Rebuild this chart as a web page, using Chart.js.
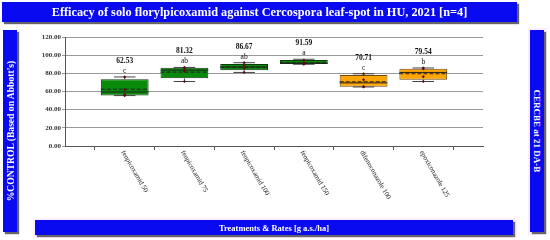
<!DOCTYPE html>
<html>
<head>
<meta charset="utf-8">
<script src="https://cdn.jsdelivr.net/npm/chart.js@4/dist/chart.umd.min.js"></script>
<style>
  body { margin: 0; background: #fff; }
  #wrap { position: relative; width: 550px; height: 240px; overflow: hidden; font-family: "Liberation Serif", serif; }
  canvas { position: absolute; left: 0; top: 0; }
  .band { position: absolute; background: #0a0af0; color: #fff; font-weight: bold; box-shadow: 2px 2px 1px #666; display: flex; align-items: center; justify-content: center; white-space: nowrap; }
  .pink { position: absolute; background: #fdeefd; }
  .vert { position: absolute; left: 50%; top: 50%; white-space: nowrap; }
</style>
</head>
<body>
<div id="wrap">
  <canvas id="chart" width="550" height="240"></canvas>
  <div class="band" style="left:2px;top:2px;width:515px;height:20px;font-size:12.3px;">Efficacy of solo florylpicoxamid against Cercospora leaf-spot in HU, 2021 [n=4]</div>
  <div class="band" style="left:3px;top:30px;width:14px;height:202px;font-size:9.6px;">
    <span class="vert" style="transform:translate(-50%,-50%) rotate(-90deg);">%CONTROL (Based on Abbott's)</span>
  </div>
  <div class="pink" style="left:528px;top:28px;width:19px;height:207px;"></div>
  <div class="band" style="left:530px;top:30px;width:14px;height:202px;font-size:9px;">
    <span class="vert" style="transform:translate(-50%,-50%) rotate(90deg);">CERCBE at 21 DA-B</span>
  </div>
  <div class="pink" style="left:33px;top:218px;width:484px;height:20px;"></div>
  <div class="band" style="left:35px;top:220px;width:478px;height:15px;font-size:8.5px;">Treatments &amp; Rates [g a.s./ha]</div>
</div>

<script>
// Behandlungen und Werte
const treatments = ["fenpicoxamid 50", "fenpicoxamid 75", "fenpicoxamid 100", "fenpicoxamid 150", "difenoconazole 100", "epoxiconazole 125"];
const means = [62.53, 81.32, 86.67, 91.59, 70.71, 79.54];
const letters = ["c", "ab", "ab", "a", "c", "b"];
const q1 = [55.5, 74.5, 83.5, 90.3, 65.3, 73.0];
const medians = [59.5, 83.5, 87.0, 91.2, 69.5, 81.0];
const q3 = [73.5, 86.2, 90.3, 94.8, 78.2, 85.1];
const lows = [55.5, 71.0, 81.0, 90.0, 65.0, 71.0];
const highs = [76.0, 86.5, 91.7, 95.5, 79.5, 85.9];
// Einzelwerte je Wiederholung (4 Wiederholungen)
const rep1 = [55.5, 71.0, 81.0, 90.0, 65.0, 71.0];
const rep2 = [56.5, 82.3, 85.5, 90.4, 65.5, 76.3];
const rep3 = [62.1, 85.5, 88.5, 91.5, 72.8, 85.0];
const rep4 = [76.0, 86.5, 91.7, 94.5, 79.5, 85.9];
const yTicks = [0, 20, 40, 60, 80, 100, 120];
const boxColors = ["#0a8a0a", "#0a8a0a", "#0a8a0a", "#0a8a0a", "#ffa500", "#ffa500"];
const edgeColors = ["#0b3d0b", "#0b3d0b", "#0b3d0b", "#0b3d0b", "#6b4a10", "#6b4a10"];

// leere Randkategorien, damit links und rechts ein voller Abstand bleibt
const labels = ["", ...treatments, ""];
const pad = (arr) => [null, ...arr, null];
const boxData = pad(treatments.map((t, i) => [q1[i], q3[i]]));

const repSet = (arr) => ({
  type: "line",
  data: pad(arr),
  showLine: false,
  pointStyle: "rectRot",
  pointRadius: 1.6,
  pointBackgroundColor: "#5a1010",
  pointBorderWidth: 0,
  order: 1
});

// Whisker, Median, Mittelwert und Beschriftungen
const boxExtras = {
  id: "boxExtras",
  afterDatasetDraw(chart, args) {
    if (args.index !== 0) return;
    const ctx = chart.ctx;
    const x = chart.scales.x, y = chart.scales.y;
    const bars = chart.getDatasetMeta(0).data;
    ctx.save();
    treatments.forEach((t, i) => {
      const cx = x.getPixelForValue(i + 1);
      const half = bars[i + 1].width / 2;
      const cap = half * 0.45;
      ctx.strokeStyle = "#444";
      ctx.lineWidth = 1;
      ctx.setLineDash([]);
      ctx.beginPath();
      ctx.moveTo(cx, y.getPixelForValue(q3[i]));
      ctx.lineTo(cx, y.getPixelForValue(highs[i]));
      ctx.moveTo(cx - cap, y.getPixelForValue(highs[i]));
      ctx.lineTo(cx + cap, y.getPixelForValue(highs[i]));
      ctx.moveTo(cx, y.getPixelForValue(q1[i]));
      ctx.lineTo(cx, y.getPixelForValue(lows[i]));
      ctx.moveTo(cx - cap, y.getPixelForValue(lows[i]));
      ctx.lineTo(cx + cap, y.getPixelForValue(lows[i]));
      ctx.stroke();
      // Median
      ctx.strokeStyle = "#222";
      ctx.beginPath();
      ctx.moveTo(cx - half, y.getPixelForValue(medians[i]));
      ctx.lineTo(cx + half, y.getPixelForValue(medians[i]));
      ctx.stroke();
      // Mittelwert gestrichelt
      ctx.setLineDash([4, 2]);
      ctx.beginPath();
      ctx.moveTo(cx - half, y.getPixelForValue(means[i]));
      ctx.lineTo(cx + half, y.getPixelForValue(means[i]));
      ctx.stroke();
      // Texte
      const top = y.getPixelForValue(highs[i]);
      ctx.fillStyle = "#111";
      ctx.textAlign = "center";
      ctx.textBaseline = "middle";
      ctx.font = "bold 7.5px 'Liberation Serif', serif";
      ctx.fillText(means[i].toFixed(2), cx, top - 16);
      ctx.font = "7.5px 'Liberation Serif', serif";
      ctx.fillText(letters[i], cx, top - 6);
    });
    ctx.restore();
  },
  afterDraw(chart) {
    // schraege x-Beschriftung, nach rechts unten laufend
    const ctx = chart.ctx;
    const x = chart.scales.x;
    ctx.save();
    ctx.fillStyle = "#111";
    ctx.font = "7px 'Liberation Serif', serif";
    ctx.textAlign = "left";
    ctx.textBaseline = "middle";
    treatments.forEach((t, i) => {
      ctx.save();
      ctx.translate(x.getPixelForValue(i + 1) - 2, chart.chartArea.bottom + 5);
      ctx.rotate(60 * Math.PI / 180);
      ctx.fillText(t, 0, 0);
      ctx.restore();
    });
    ctx.restore();
  }
};

new Chart(document.getElementById("chart"), {
  type: "bar",
  data: {
    labels: labels,
    datasets: [
      {
        type: "bar",
        data: boxData,
        backgroundColor: pad(boxColors),
        borderColor: pad(edgeColors),
        borderWidth: 1,
        borderSkipped: false,
        categoryPercentage: 0.8,
        barPercentage: 1.0,
        order: 2
      },
      repSet(rep1),
      repSet(rep2),
      repSet(rep3),
      repSet(rep4)
    ]
  },
  options: {
    responsive: false,
    animation: false,
    layout: { padding: { left: 22, right: 67, top: 37, bottom: 0 } },
    plugins: { legend: { display: false }, tooltip: { enabled: false } },
    scales: {
      x: {
        type: "category",
        offset: false,
        grid: { display: true, drawOnChartArea: false, color: "#555", tickLength: 4 },
        border: { color: "#555" },
        ticks: { display: false },
        afterFit: (s) => { s.height = 94; }
      },
      y: {
        min: 0,
        max: 120,
        afterBuildTicks: (s) => { s.ticks = yTicks.map(v => ({ value: v })); },
        grid: { color: "#9a9a9a", tickLength: 3 },
        border: { color: "#555" },
        ticks: {
          color: "#333",
          padding: 1,
          font: { family: "'Liberation Serif', serif", size: 7, weight: "bold" },
          callback: (v) => Number(v).toFixed(2)
        },
        afterFit: (s) => { s.width = 43; }
      }
    }
  },
  plugins: [boxExtras]
});
</script>
</body>
</html>
